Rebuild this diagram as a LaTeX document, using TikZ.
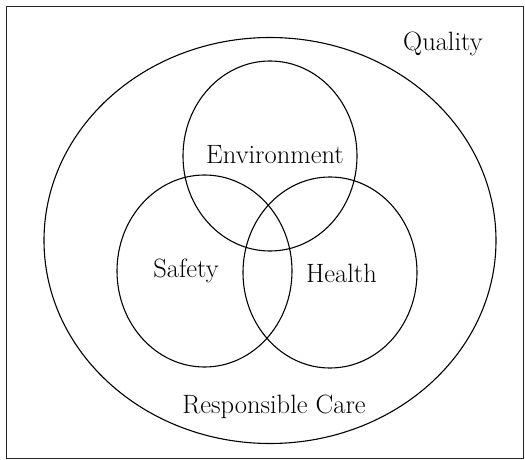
\documentclass[tikz,border=0pt]{standalone}
\usetikzlibrary{shapes.geometric}
\begin{document}
\begin{tikzpicture}[x=1pt,y=-1pt,
  ring/.style={ellipse, draw=black, line width=1.1pt, inner sep=0pt},
  lbl/.style={font=\fontsize{26.5}{30}\selectfont, anchor=base, inner sep=0pt}]
\useasboundingbox (0,0) rectangle (525,460);
\draw[line width=0.9pt, black!85] (6,6) rectangle (523,458);
\node[ring, minimum width=452pt, minimum height=406pt] (rc) at (270,240.5) {};
\node[ring, minimum width=174pt, minimum height=190pt] (env) at (270,156) {};
\node[ring, minimum width=175pt, minimum height=192pt] (saf) at (204.5,271) {};
\node[ring, minimum width=174pt, minimum height=191pt] (hea) at (330,272.5) {};
\node[lbl] (q) at (443,51) {Quality};
\node[lbl] (te) at (275,163) {Environment};
\node[lbl] (ts) at (186,277) {Safety};
\node[lbl] (th) at (341.5,282) {Health};
\node[lbl] (tr) at (274,413) {Responsible Care};
\end{tikzpicture}
\end{document}
